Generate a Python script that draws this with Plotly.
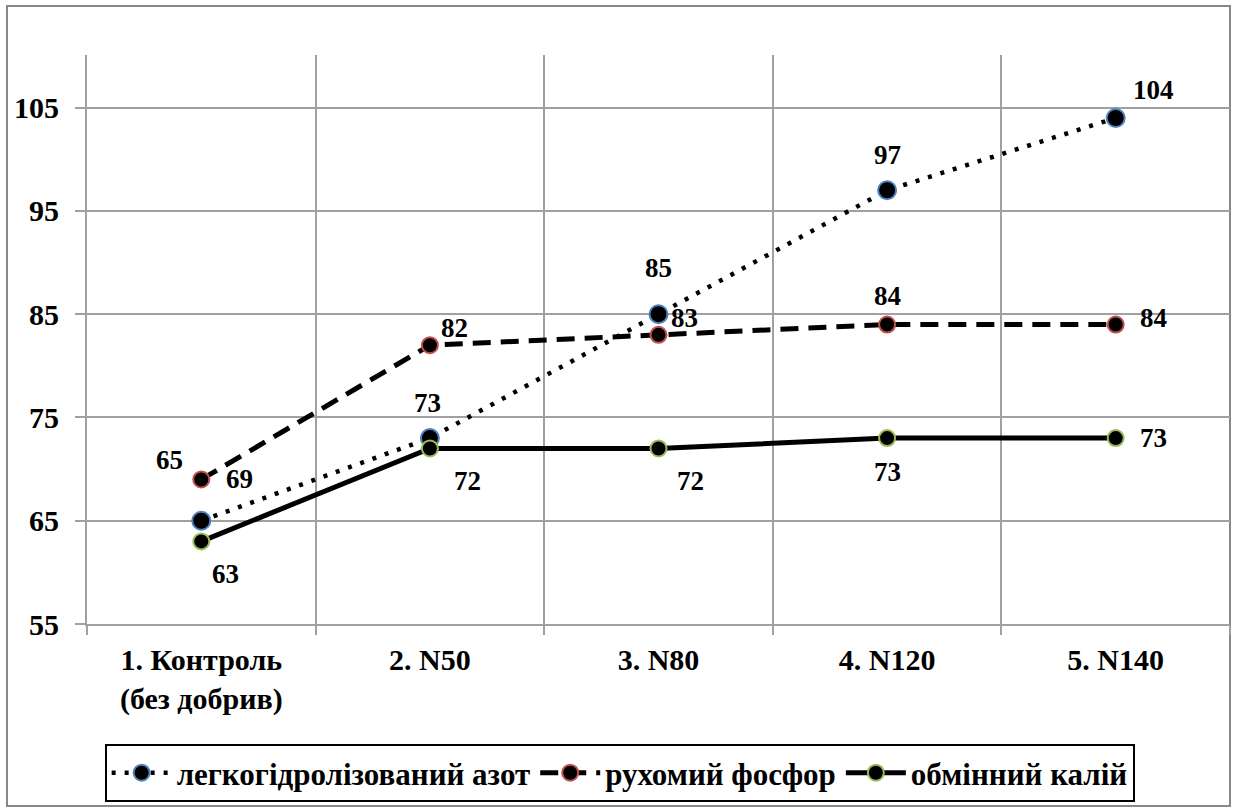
import plotly.graph_objects as go

categories = ["1. Контроль<br>(без добрив)", "2. N50", "3. N80", "4. N120", "5. N140"]
nitrogen = [65, 73, 85, 97, 104]
phosphorus = [69, 82, 83, 84, 84]
potassium = [63, 72, 72, 73, 73]
series_names = ["легкогідролізований азот", "рухомий фосфор", "обмінний калій"]
y_ticks = [55, 65, 75, 85, 95, 105]

# label offsets (px) per point: (xshift, yshift)
n_off = [(-32, 61), (-2, 35), (0, 46), (0, 35), (38, 28)]
p_off = [(38, 0), (25, 17), (26, 17), (0, 29), (38, 7)]
k_off = [(24, -33), (38, -33), (32, -33), (0, -34), (38, 0)]

FONT = "Liberation Serif, Liberation Sans, Arial, sans-serif"
fig = go.Figure()

fig.add_trace(go.Scatter(
    x=categories, y=nitrogen, name=series_names[0], mode="lines+markers",
    line=dict(color="black", width=4.5, dash="4px,9px"),
    marker=dict(size=18, color="black", line=dict(color="#4f81bd", width=2)),
))
fig.add_trace(go.Scatter(
    x=categories, y=phosphorus, name=series_names[1], mode="lines+markers",
    line=dict(color="black", width=5, dash="18px,10px"),
    marker=dict(size=16, color="black", line=dict(color="#c0504d", width=2)),
))
fig.add_trace(go.Scatter(
    x=categories, y=potassium, name=series_names[2], mode="lines+markers",
    line=dict(color="black", width=5),
    marker=dict(size=16, color="black", line=dict(color="#9bbb59", width=2)),
))

for vals, offs in ((nitrogen, n_off), (phosphorus, p_off), (potassium, k_off)):
    for c, v, (dx, dy) in zip(categories, vals, offs):
        fig.add_annotation(x=c, y=v, text="<b>%d</b>" % v, showarrow=False,
                           xshift=dx, yshift=dy,
                           font=dict(family=FONT, size=27, color="black"))

# outer chart border
fig.add_shape(type="rect", xref="paper", yref="paper",
              x0=-0.07, x1=1.0, y0=-0.32, y1=1.086,
              line=dict(color="#888888", width=2), layer="below")

fig.update_layout(
    width=1234, height=812,
    margin=dict(l=87, r=4, t=55, b=188),
    paper_bgcolor="white", plot_bgcolor="white",
    showlegend=True,
    legend=dict(orientation="h", x=0.466, xanchor="center", y=-0.211, yanchor="top",
                bordercolor="black", borderwidth=2, bgcolor="white",
                font=dict(family=FONT, size=31, color="black"),
                itemwidth=60, tracegroupgap=0),
    font=dict(family=FONT, color="black"),
)
fig.update_xaxes(
    type="category", tickson="boundaries", range=[-0.5, 4.5],
    tickvals=categories, ticktext=["<b>%s</b>" % c.replace("<br>", "</b><br><b>") for c in categories],
    showgrid=True, gridcolor="#a0a0a0", gridwidth=2,
    showline=True, linecolor="#a0a0a0", linewidth=2,
    ticks="outside", ticklen=9, tickcolor="#a0a0a0", tickwidth=2,
    tickfont=dict(family=FONT, size=30, color="black"),
    ticklabelstandoff=8,
)
fig.update_yaxes(
    range=[55, 110.1], tickvals=y_ticks, ticktext=["<b>%d</b>" % t for t in y_ticks],
    showgrid=True, gridcolor="#a0a0a0", gridwidth=2,
    showline=True, linecolor="#a0a0a0", linewidth=2,
    ticks="outside", ticklen=10, tickcolor="#a0a0a0", tickwidth=2,
    tickfont=dict(family=FONT, size=30, color="black"),
    ticklabelstandoff=10, zeroline=False,
)
for tr in fig.data:
    tr.name = "<b>%s</b>" % tr.name

fig.write_html("out.html")
